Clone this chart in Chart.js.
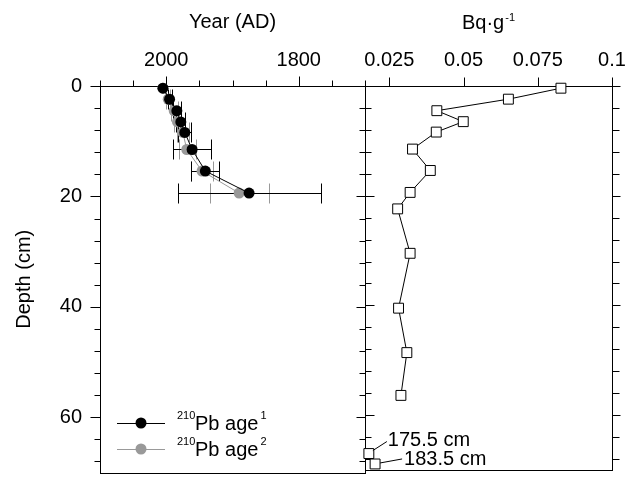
<!DOCTYPE html>
<html>
<head>
<meta charset="utf-8">
<script src="https://cdn.jsdelivr.net/npm/chart.js@4"></script>
<style>
  html, body { margin: 0; padding: 0; background: #fff; }
  #wrap { position: relative; width: 630px; height: 478px; }
  #wrap canvas { position: absolute; left: 0; top: 0; }
</style>
</head>
<body>
<div id="wrap">
  <canvas id="ageChart" width="630" height="478"></canvas>
  <canvas id="actChart" width="630" height="478"></canvas>
</div>
<script>
// 210Pb ages (left panel)
const ageDepth = [0.4, 2.4, 4.5, 6.5, 8.4, 11.5, 15.4, 19.4];
const age1 = [2005, 1995, 1984, 1978, 1972, 1961, 1941, 1875];
const age1Young = [2005, 1998, 1990, 1985, 1982, 1990, 1962, 1982];
const age1Old = [2005, 1991, 1977, 1972, 1963, 1932, 1920, 1767];
const age2 = [2005, 1997, 1988, 1983, 1975, 1969, 1946, 1890];
const age2Young = [2005, 2000, 1993, 1989, 1984, 1981, 1962, 1934];
const age2Old = [2005, 1994, 1983, 1977, 1966, 1955, 1930, 1845];

// activity profile (right panel)
const actDepth = [0.4, 2.4, 4.5, 6.5, 8.4, 11.5, 15.4, 19.4, 22.4, 30.5, 40.5, 48.6, 56.4];
const activity = [0.0828, 0.0651, 0.041, 0.0499, 0.0408, 0.0328, 0.0388, 0.032, 0.0278, 0.032, 0.0281, 0.0309, 0.0289];
const deepDepth = [67.0, 68.9];
const deepActivity = [0.0181, 0.0202];
const deepLabels = ['175.5 cm', '183.5 cm'];

// ticks
const yearTicks = [2000, 1800];
const yearMinor = [2100, 2050, 1950, 1900, 1850, 1750, 1700];
const actTicks = [0.025, 0.05, 0.075, 0.1];
const depthTicks = [0, 20, 40, 60];
const depthMinor = [4, 8, 12, 16, 24, 28, 32, 36, 44, 48, 52, 56, 64, 68];

const FONT = "'Liberation Sans', Arial, Helvetica, sans-serif";
const GREY = '#999';

const px = v => Math.round(v) + 0.5;
function seg(ctx, x1, y1, x2, y2) {
  ctx.beginPath();
  ctx.moveTo(x1, y1);
  ctx.lineTo(x2, y2);
  ctx.stroke();
}
// short marks on a vertical edge, lengths to the left and to the right
function depthMarks(ctx, yS, x, minL, minR, majL, majR) {
  depthMinor.forEach(d => { const y = px(yS.getPixelForValue(d)); seg(ctx, x - minL, y, x + minR, y); });
  depthTicks.forEach(d => { const y = px(yS.getPixelForValue(d)); seg(ctx, x - majL, y, x + majR, y); });
}
function frame(ctx, a) {
  ctx.strokeRect(px(a.left), px(a.top), Math.round(a.right) - Math.round(a.left), Math.round(a.bottom) - Math.round(a.top));
}
function pts(xs, ys) {
  return xs.map((v, i) => ({ x: v, y: ys[i] }));
}
function fixedTicks(list) {
  return sc => { sc.ticks = list.map(v => ({ value: v })); };
}
// keep chart.js from reserving room for edge labels
function noPad(sc) {
  sc.paddingLeft = 0; sc.paddingRight = 0; sc.paddingTop = 0; sc.paddingBottom = 0;
}
const tickFont = { family: FONT, size: 20 };

const ageDecor = {
  id: 'ageDecor',
  beforeDatasetsDraw(chart) {
    const { ctx, chartArea: a, scales: { x, y } } = chart;
    ctx.save();
    ctx.strokeStyle = '#000';
    ctx.lineWidth = 1;
    frame(ctx, a);
    const top = px(a.top);
    yearMinor.forEach(v => { const X = px(x.getPixelForValue(v)); seg(ctx, X, top, X, top - 6); });
    yearTicks.forEach(v => { const X = px(x.getPixelForValue(v)); seg(ctx, X, top, X, top - 10); });
    depthMarks(ctx, y, px(a.left), 6, 0, 10, 0);
    depthMarks(ctx, y, px(a.right), 6, 0, 9, 0);

    // error bars, grey first
    const bars = [[age2Young, age2Old, GREY], [age1Young, age1Old, '#000']];
    bars.forEach(([lo, hi, col]) => {
      ctx.strokeStyle = col;
      ageDepth.forEach((d, i) => {
        if (lo[i] === hi[i]) return;
        const Y = px(y.getPixelForValue(d));
        const x1 = px(x.getPixelForValue(lo[i]));
        const x2 = px(x.getPixelForValue(hi[i]));
        seg(ctx, x1, Y, x2, Y);
        seg(ctx, x1, Y - 10, x1, Y + 10);
        seg(ctx, x2, Y - 10, x2, Y + 10);
      });
    });
    ctx.restore();
  },
  afterDraw(chart) {
    const { ctx } = chart;
    ctx.save();
    chart.data.datasets.forEach((ds, i) => {
      const rowY = 423 + i * 26;
      ctx.strokeStyle = ds.borderColor;
      ctx.fillStyle = ds.borderColor;
      ctx.lineWidth = 1;
      seg(ctx, 117, px(rowY), 165, px(rowY));
      ctx.beginPath();
      ctx.arc(141, rowY, 5.5, 0, Math.PI * 2);
      ctx.fill();
      ctx.fillStyle = '#000';
      ctx.textBaseline = 'alphabetic';
      ctx.textAlign = 'left';
      ctx.font = '11px ' + FONT;
      ctx.fillText(ds.iso, 177, rowY - 4);
      ctx.font = '20px ' + FONT;
      ctx.fillText(ds.name, 195, rowY + 7);
      const w = ctx.measureText(ds.name).width;
      ctx.font = '11px ' + FONT;
      ctx.fillText(ds.sup, 195 + w + 2, rowY - 4);
    });
    ctx.restore();
  }
};

const actDecor = {
  id: 'actDecor',
  beforeDatasetsDraw(chart) {
    const { ctx, chartArea: a, scales: { x, y } } = chart;
    ctx.save();
    ctx.strokeStyle = '#000';
    ctx.lineWidth = 1;
    frame(ctx, a);
    const top = px(a.top);
    actTicks.forEach(v => { const X = px(x.getPixelForValue(v)); seg(ctx, X, top, X, top - 9); });
    depthMarks(ctx, y, px(a.left), 0, 6, 0, 9);
    depthMarks(ctx, y, px(a.right), 0, 7, 0, 8);

    // axis title Bq·g-1
    const main = 'Bq·g', sup = '-1';
    ctx.fillStyle = '#000';
    ctx.textAlign = 'left';
    ctx.textBaseline = 'alphabetic';
    ctx.font = '20px ' + FONT;
    const w1 = ctx.measureText(main).width;
    ctx.font = '11px ' + FONT;
    const w2 = ctx.measureText(sup).width;
    const x0 = (a.left + a.right) / 2 - (w1 + w2 + 1) / 2;
    ctx.font = '20px ' + FONT;
    ctx.fillText(main, x0, 29);
    ctx.font = '11px ' + FONT;
    ctx.fillText(sup, x0 + w1 + 1, 21);
    ctx.restore();
  },
  afterDatasetsDraw(chart) {
    const { ctx } = chart;
    const meta = chart.getDatasetMeta(1);
    const leaders = [[4, -3, 18, -12, 19, -13], [5, -1, 27, -5, 29, -4]];
    ctx.save();
    ctx.strokeStyle = '#000';
    ctx.fillStyle = '#000';
    ctx.lineWidth = 1;
    ctx.font = '20px ' + FONT;
    ctx.textAlign = 'left';
    ctx.textBaseline = 'middle';
    meta.data.forEach((p, i) => {
      const [ax, ay, bx, by, tx, ty] = leaders[i];
      seg(ctx, p.x + ax, p.y + ay, p.x + bx, p.y + by);
      ctx.fillText(deepLabels[i], p.x + tx, p.y + ty);
    });
    ctx.restore();
  }
};

new Chart(document.getElementById('ageChart'), {
  type: 'line',
  data: {
    datasets: [
      {
        iso: '210', name: 'Pb age', sup: '1',
        data: pts(age1, ageDepth),
        borderColor: '#000', backgroundColor: '#000',
        pointBackgroundColor: '#000', pointBorderColor: '#000',
        borderWidth: 1, pointRadius: 5.5, pointBorderWidth: 0, clip: false
      },
      {
        iso: '210', name: 'Pb age', sup: '2',
        data: pts(age2, ageDepth),
        borderColor: GREY, backgroundColor: GREY,
        pointBackgroundColor: GREY, pointBorderColor: GREY,
        borderWidth: 1, pointRadius: 5.5, pointBorderWidth: 0, clip: false
      }
    ]
  },
  options: {
    responsive: false,
    animation: false,
    layout: { padding: { left: 0, right: 265, top: 0, bottom: 5 } },
    plugins: { legend: { display: false }, tooltip: { enabled: false } },
    scales: {
      x: {
        type: 'linear', position: 'top', reverse: true, min: 1700, max: 2100,
        afterBuildTicks: fixedTicks(yearTicks),
        afterFit: sc => { sc.height = 86; noPad(sc); },
        grid: { display: false, drawTicks: false },
        border: { display: false },
        ticks: { color: '#000', font: tickFont, padding: 14, maxRotation: 0, autoSkip: false, callback: v => String(v) },
        title: { display: true, text: 'Year (AD)', color: '#000', font: tickFont, padding: { top: 10, bottom: 0 } }
      },
      y: {
        type: 'linear', position: 'left', reverse: true, min: 0, max: 70,
        afterBuildTicks: fixedTicks(depthTicks),
        afterFit: sc => { sc.width = 100; noPad(sc); },
        grid: { display: false, drawTicks: false },
        border: { display: false },
        ticks: { color: '#000', font: tickFont, padding: 18, autoSkip: false, callback: v => String(v) },
        title: { display: true, text: 'Depth (cm)', color: '#000', font: tickFont, padding: { top: 12, bottom: 0 } }
      }
    }
  },
  plugins: [ageDecor]
});

new Chart(document.getElementById('actChart'), {
  type: 'line',
  data: {
    datasets: [
      {
        data: pts(activity, actDepth),
        borderColor: '#000', borderWidth: 1,
        pointStyle: 'rect', pointRadius: 7, pointBorderWidth: 1,
        pointBackgroundColor: '#fff', pointBorderColor: '#000', clip: false
      },
      {
        data: pts(deepActivity, deepDepth),
        showLine: false,
        pointStyle: 'rect', pointRadius: 7, pointBorderWidth: 1,
        pointBackgroundColor: '#fff', pointBorderColor: '#000', clip: false
      }
    ]
  },
  options: {
    responsive: false,
    animation: false,
    layout: { padding: { left: 365, right: 18, top: 0, bottom: 5 } },
    plugins: { legend: { display: false }, tooltip: { enabled: false } },
    scales: {
      x: {
        type: 'linear', position: 'top', min: 0.0168, max: 0.1,
        afterBuildTicks: fixedTicks(actTicks),
        afterFit: sc => { sc.height = 86; noPad(sc); },
        grid: { display: false, drawTicks: false },
        border: { display: false },
        ticks: { color: '#000', font: tickFont, padding: 14, maxRotation: 0, autoSkip: false, callback: v => String(v) }
      },
      y: {
        type: 'linear', position: 'left', reverse: true, min: 0, max: 70,
        afterBuildTicks: fixedTicks(depthTicks),
        afterFit: sc => { sc.width = 0; noPad(sc); },
        grid: { display: false, drawTicks: false },
        border: { display: false },
        ticks: { display: false }
      }
    }
  },
  plugins: [actDecor]
});
</script>
</body>
</html>
